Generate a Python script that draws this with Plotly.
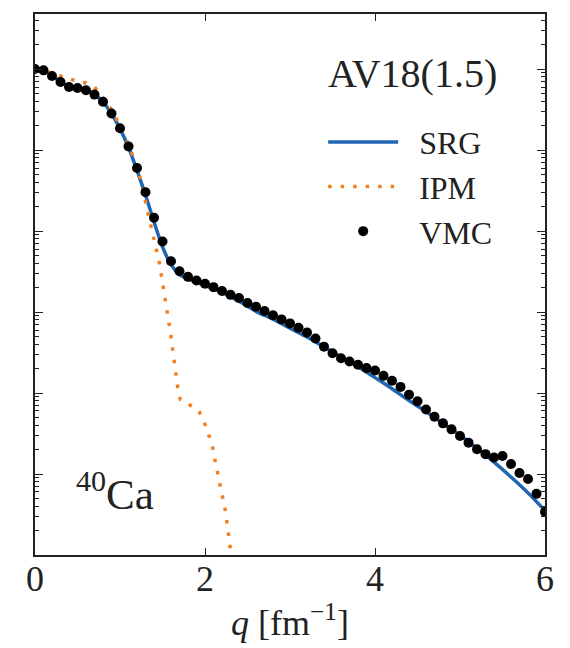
import plotly.graph_objects as go

# VMC momentum distribution points (q step 0.1 fm^-1)
vmc_q = [round(0.1 * k, 1) for k in range(61)]
vmc_n = [1.0, 0.964, 0.821, 0.693, 0.602, 0.585, 0.548, 0.484, 0.394, 0.283,
         0.186, 0.111, 0.0600, 0.0302, 0.0146, 0.00743, 0.00423, 0.00319, 0.00272, 0.00245,
         0.00223, 0.00203, 0.00182, 0.00163, 0.00149, 0.00129, 0.00116, 0.00103, 0.000914, 0.000811,
         0.000724, 0.000640, 0.000558, 0.000471, 0.000374, 0.000310, 0.000269, 0.000245, 0.000223, 0.000203,
         0.000190, 0.000163, 0.000142, 0.000119, 9.55e-5, 7.91e-5, 6.26e-5, 5.10e-5, 4.22e-5, 3.56e-5,
         2.94e-5, 2.44e-5, 2.02e-5, 1.76e-5, 1.60e-5, 1.67e-5, 1.33e-5, 1.03e-5, 8.68e-6, 5.69e-6,
         3.40e-6]

# SRG curve
srg_q = [0.0, 0.1, 0.2, 0.3, 0.4, 0.5, 0.6, 0.7, 0.8, 0.9, 1.0, 1.1, 1.2, 1.3, 1.4, 1.5,
         1.6, 1.7, 1.8, 1.9, 2.0, 2.2, 2.4, 2.6, 2.8, 3.0, 3.2, 3.4, 3.6, 3.8, 4.0,
         4.2, 4.4, 4.6, 4.8, 5.0, 5.2, 5.4, 5.6, 5.8, 6.0]
srg_n = [1.0, 0.96, 0.83, 0.70, 0.61, 0.585, 0.55, 0.485, 0.394, 0.281, 0.184, 0.108, 0.0562,
         0.0278, 0.0130, 0.00640, 0.00385, 0.00290, 0.00256, 0.00232, 0.00213, 0.00175, 0.00136,
         0.00102, 0.000816, 0.000633, 0.000491, 0.000371, 0.000279, 0.000211, 0.000155,
         0.000113, 8.07e-5, 5.92e-5, 4.22e-5, 3.01e-5, 2.08e-5, 1.40e-5, 9.19e-6, 5.85e-6, 3.52e-6]

# IPM curve
ipm_q = [0.0, 0.1, 0.2, 0.3, 0.45, 0.6, 0.7, 0.8, 0.9, 1.0, 1.1, 1.2, 1.25, 1.31, 1.35, 1.39,
         1.43, 1.47, 1.50, 1.53, 1.56, 1.58, 1.60, 1.62, 1.635, 1.65, 1.68, 1.71, 1.80, 1.93,
         2.00, 2.05, 2.09, 2.12, 2.15, 2.18, 2.21, 2.24, 2.26, 2.28, 2.30, 2.32]
ipm_n = [1.0, 0.945, 0.893, 0.821, 0.733, 0.674, 0.602, 0.441, 0.315, 0.200, 0.117, 0.0612,
         0.0412, 0.0204, 0.0133, 0.00898, 0.00605, 0.00375, 0.00232, 0.00152, 0.00102, 0.000689,
         0.000491, 0.000340, 0.000236, 0.000168, 0.000116, 8.3e-5, 7.41e-5, 5.92e-5, 4.10e-5,
         2.92e-5, 2.14e-5, 1.44e-5, 1.0e-5, 7.13e-6, 5.22e-6, 3.52e-6, 2.44e-6, 1.69e-6,
         1.14e-6, 7.9e-7]

x_ticks = [0, 2, 4, 6]
x_ticklabels = ["0", "2", "4", "6"]

BLUE = "#1f66b0"
ORANGE = "#f28022"
FONT = "Liberation Serif"
SP = "\u2002"

fig = go.Figure()
fig.add_trace(go.Scatter(x=srg_q, y=srg_n, mode="lines", name=SP + "SRG",
                         line=dict(color=BLUE, width=3.5, shape="spline")))
fig.add_trace(go.Scatter(x=ipm_q, y=ipm_n, mode="lines", name=SP + "IPM",
                         line=dict(color=ORANGE, width=3.5, dash="3.5px,9px")))
fig.add_trace(go.Scatter(x=vmc_q, y=vmc_n, mode="markers", name=SP + "VMC",
                         marker=dict(color="black", size=10)))

fig.add_annotation(text="AV18(1.5)", xref="paper", yref="paper", x=0.741, y=0.89,
                   showarrow=False, font=dict(family=FONT, size=40, color="#222"),
                   xanchor="center", yanchor="middle")
fig.add_annotation(text="<sup>40</sup>Ca", xref="paper", yref="paper", x=0.157, y=0.118,
                   showarrow=False, font=dict(family=FONT, size=43, color="#222"),
                   xanchor="center", yanchor="middle")

axis_common = dict(showline=True, linecolor="#222", linewidth=1.5, mirror="allticks",
                   ticks="inside", tickcolor="#222", showgrid=False, zeroline=False)

fig.update_layout(
    width=570, height=648,
    margin=dict(l=35, r=25, t=12, b=92),
    paper_bgcolor="white", plot_bgcolor="white",
    font=dict(family=FONT, color="#222"),
    showlegend=True,
    legend=dict(x=0.565, y=0.814, xanchor="left", yanchor="top",
                font=dict(family=FONT, size=32, color="#222"),
                bgcolor="rgba(0,0,0,0)", itemwidth=70, tracegroupgap=0),
    xaxis=dict(range=[0, 6], tickvals=x_ticks, ticktext=x_ticklabels, ticklen=7, tickwidth=1.2,
               tickfont=dict(family=FONT, size=36, color="#222"), ticklabelstandoff=-9,
               title=dict(text="<i>q</i> [fm<sup>−1</sup>]", font=dict(family=FONT, size=36, color="#222"),
                          standoff=12),
               **axis_common),
    yaxis=dict(type="log", range=[-6, 0.68], dtick=1, ticklen=8, tickwidth=1.2,
               showticklabels=False,
               minor=dict(ticks="inside", ticklen=4, tickwidth=1, tickcolor="#222", dtick="D1",
                          showgrid=False),
               **axis_common),
)

fig.write_html("out.html")
